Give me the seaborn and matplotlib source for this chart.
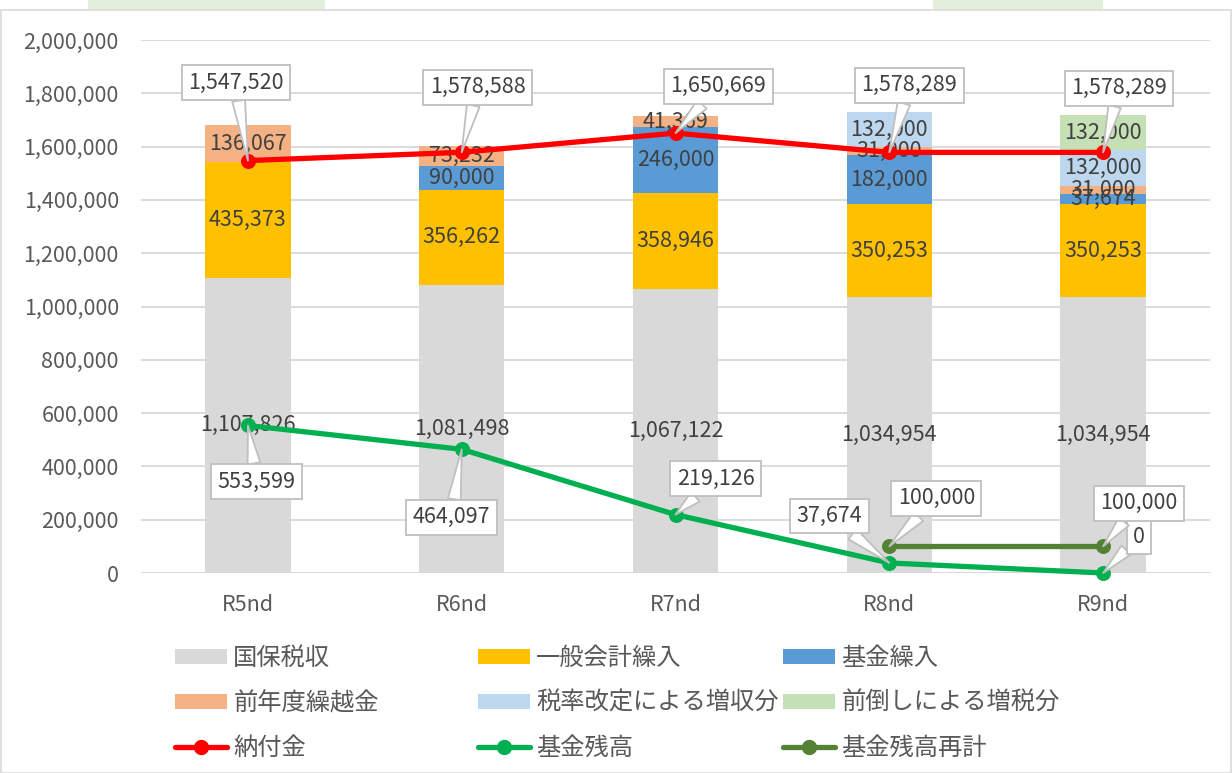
import numpy as np
import matplotlib
matplotlib.use("Agg")
import matplotlib.pyplot as plt
import seaborn as sns
from matplotlib.patches import Patch, Rectangle
from matplotlib.lines import Line2D

# data
years = ["R5nd", "R6nd", "R7nd", "R8nd", "R9nd"]
kokuho = [1107826, 1081498, 1067122, 1034954, 1034954]
ippan = [435373, 356262, 358946, 350253, 350253]
kikin_kuriire = [0, 90000, 246000, 182000, 37674]
kurikoshi = [136067, 73232, 41369, 31000, 31000]
zeiritsu = [0, 0, 0, 132000, 132000]
maedaoshi = [0, 0, 0, 0, 132000]

noufu = [1547520, 1578588, 1650669, 1578289, 1578289]
kikin_zandaka = [553599, 464097, 219126, 37674, 0]
kikin_saikei = [np.nan, np.nan, np.nan, 100000, 100000]

stack_names = ["国保税収", "一般会計繰入", "基金繰入", "前年度繰越金", "税率改定による増収分", "前倒しによる増税分"]
stack_vals = [kokuho, ippan, kikin_kuriire, kurikoshi, zeiritsu, maedaoshi]
stack_colors = ["#D9D9D9", "#FFC000", "#5B9BD5", "#F4B183", "#BDD7EE", "#C5E0B4"]

line_names = ["納付金", "基金残高", "基金残高再計"]
line_vals = [noufu, kikin_zandaka, kikin_saikei]
line_colors = ["#FF0000", "#00B050", "#548235"]

# callout offsets (pixels) box centre relative to point
callout_offsets = [
    [(-12, 78), (16, 65), (43, 47), (20, 67), (16, 64)],
    [(9, -56), (-10, -68), (40, 36), (-60, 47), (36, 36)],
    [None, None, None, (47, 48), (36, 43)],
]

sns.set_theme(style="white")
plt.rcParams["font.family"] = ["Noto Sans CJK JP", "DejaVu Sans"]
txt_color = "#595959"
lbl_color = "#404040"

fig = plt.figure(figsize=(12.32, 7.73), dpi=100)
ax = fig.add_axes([141 / 1232, 1 - 573 / 773, (1210 - 141) / 1232, (573 - 40) / 773])

# chart frame and the clipped cells above it
fig.patches.append(Rectangle((0.0008, 0), 0.998, 1 - 10 / 773, transform=fig.transFigure,
                             fill=False, ec="#d9d9d9", lw=1.2))
fig.patches.append(Rectangle((88 / 1232, 1 - 9 / 773), 237 / 1232, 9 / 773, transform=fig.transFigure,
                             fc="#E2EFDA", ec="none"))
fig.patches.append(Rectangle((933 / 1232, 1 - 9 / 773), 170 / 1232, 9 / 773, transform=fig.transFigure,
                             fc="#E2EFDA", ec="none"))

# stacked bars: draw cumulative totals from top layer down
cum = np.cumsum(np.array(stack_vals, dtype=float), axis=0)
for k in range(len(stack_vals) - 1, -1, -1):
    sns.barplot(x=years, y=cum[k], color=stack_colors[k], saturation=1, width=0.4, ax=ax,
                edgecolor="none", linewidth=0)

ax.set_axisbelow(True)
ax.yaxis.grid(True, color="#d9d9d9", lw=1.3)
ax.xaxis.grid(False)
for s in ax.spines.values():
    s.set_visible(False)
ax.axhline(0, color="#d9d9d9", lw=1.3, zorder=0.5)
ax.set_ylim(0, 2000000)
ax.set_yticks(np.arange(0, 2000001, 200000))
ax.set_yticklabels([f"{int(v):,}" for v in ax.get_yticks()])
ax.set_xlim(-0.5, 4.5)
ax.set_xlabel("")
ax.set_ylabel("")
ax.tick_params(axis="y", length=0, pad=16, labelsize=15.5, labelcolor=txt_color)
ax.tick_params(axis="x", length=0, pad=15, labelsize=15.5, labelcolor=txt_color)

# segment labels
for k, vals in enumerate(stack_vals):
    for i, v in enumerate(vals):
        if v > 0:
            mid = cum[k][i] - v / 2
            ax.text(i, mid, f"{v:,}", ha="center", va="center", fontsize=15.5, color=lbl_color, zorder=3)

# lines
for name, vals, col in zip(line_names, line_vals, line_colors):
    sns.lineplot(x=years, y=vals, color=col, lw=3.8, marker="o", markersize=10,
                 markeredgecolor=col, sort=False, ax=ax, zorder=4, clip_on=False)

# callouts
for vals, offs in zip(line_vals, callout_offsets):
    for i, v in enumerate(vals):
        if offs[i] is None or np.isnan(v):
            continue
        ax.annotate(f"{int(v):,}", xy=(i, v), xytext=offs[i], textcoords="offset pixels",
                    ha="center", va="center", fontsize=15.5, color=lbl_color, zorder=6,
                    bbox=dict(boxstyle="square,pad=0.3", fc="white", ec="#bfbfbf", lw=1.3),
                    arrowprops=dict(arrowstyle="wedge,tail_width=0.6,shrink_factor=0.5",
                                    fc="white", ec="#bfbfbf", lw=1.3, shrinkA=0, shrinkB=0))

# legend: three columns laid out like the original
cols_x = [175, 478, 783]
col_entries = [[0, 3, ("L", 0)], [1, 4, ("L", 1)], [2, 5, ("L", 2)]]
for cx, entries in zip(cols_x, col_entries):
    handles, labels = [], []
    for e in entries:
        if isinstance(e, tuple):
            j = e[1]
            handles.append(Line2D([0], [0], color=line_colors[j], lw=3.8, marker="o", markersize=10))
            labels.append(line_names[j])
        else:
            handles.append(Patch(fc=stack_colors[e], ec="none"))
            labels.append(stack_names[e])
    fig.legend(handles, labels, loc="upper left", bbox_to_anchor=(cx / 1232, 1 - 645 / 773),
               frameon=False, fontsize=17.5, labelcolor=txt_color, handlelength=2.15, handleheight=0.6,
               handletextpad=0.25, labelspacing=0.78, borderpad=0, borderaxespad=0)

fig.savefig("out.png", dpi=100)
